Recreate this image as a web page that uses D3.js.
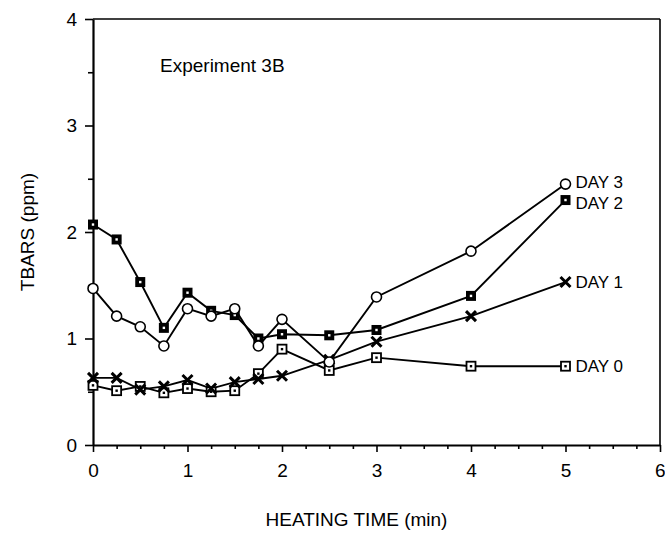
<!DOCTYPE html>
<html lang="en">
<head>
<meta charset="UTF-8">
<title>Experiment 3B</title>
<script src="https://d3js.org/d3.v7.min.js"></script>
<style>
  body { margin: 0; background: #fff; }
  svg { display: block; font-family: "Liberation Sans", Arial, sans-serif; }
  .line { fill: none; stroke: #000; stroke-width: 1.9px; }
</style>
</head>
<body>
<svg width="665" height="536"></svg>
<script>
// heating time (min)
const times = [0, 0.25, 0.5, 0.75, 1, 1.25, 1.5, 1.75, 2, 2.5, 3, 4, 5];
// TBARS (ppm) per storage day
const day0 = [0.56, 0.51, 0.55, 0.49, 0.53, 0.50, 0.51, 0.67, 0.90, 0.70, 0.82, 0.74, 0.74];
const day1 = [0.63, 0.63, 0.52, 0.55, 0.61, 0.53, 0.59, 0.62, 0.65, 0.80, 0.97, 1.21, 1.53];
const day2 = [2.07, 1.93, 1.53, 1.10, 1.43, 1.26, 1.22, 1.00, 1.04, 1.03, 1.08, 1.40, 2.30];
const day3 = [1.47, 1.21, 1.11, 0.93, 1.28, 1.21, 1.28, 0.93, 1.18, 0.78, 1.39, 1.82, 2.45];
const xTicks = [0, 1, 2, 3, 4, 5, 6];
const yTicks = [0, 1, 2, 3, 4];

const series = [
  { name: "DAY 0", values: day0, marker: "openSquare", dy: 0 },
  { name: "DAY 1", values: day1, marker: "cross", dy: 0 },
  { name: "DAY 2", values: day2, marker: "filledSquare", dy: 3 },
  { name: "DAY 3", values: day3, marker: "circle", dy: -2 }
];

const svg = d3.select("svg");
const m = { left: 93, right: 660, top: 19, bottom: 445 };

const x = d3.scaleLinear().domain([0, 6]).range([m.left, m.right]);
const y = d3.scaleLinear().domain([0, 4]).range([m.bottom, m.top]);

// frame: top and right are thinner
svg.append("line").attr("x1", m.left).attr("x2", m.right).attr("y1", m.top).attr("y2", m.top)
  .attr("stroke", "#000").attr("stroke-width", 1.6);
svg.append("line").attr("x1", m.right).attr("x2", m.right).attr("y1", m.top).attr("y2", m.bottom)
  .attr("stroke", "#000").attr("stroke-width", 1.6);

// x axis, major + minor ticks
const xMinor = d3.range(0, 6.01, 0.25).filter(v => !xTicks.includes(v));
svg.append("g").attr("transform", `translate(0,${m.bottom})`)
  .call(d3.axisBottom(x).tickValues(xMinor).tickSize(4).tickFormat(""))
  .call(g => g.select(".domain").remove());
const xAxis = svg.append("g").attr("transform", `translate(0,${m.bottom})`)
  .call(d3.axisBottom(x).tickValues(xTicks).tickSize(7).tickSizeOuter(0).tickPadding(12).tickFormat(d3.format("d")));
// last label sits at the page edge
xAxis.selectAll(".tick text").filter(d => d === 6).attr("text-anchor", "end").attr("dx", 5);

// y axis
const yMinor = [0.5, 1.5, 2.5, 3.5];
svg.append("g").attr("transform", `translate(${m.left},0)`)
  .call(d3.axisLeft(y).tickValues(yMinor).tickSize(5).tickFormat(""))
  .call(g => g.select(".domain").remove());
const yAxis = svg.append("g").attr("transform", `translate(${m.left},0)`)
  .call(d3.axisLeft(y).tickValues(yTicks).tickSize(8).tickSizeOuter(0).tickPadding(8).tickFormat(d3.format("d")));

svg.selectAll(".domain").attr("stroke-width", 2.2);
svg.selectAll(".tick line").attr("stroke-width", 1.6);
svg.selectAll(".tick text").attr("font-size", 19).attr("fill", "#000")
  .attr("font-family", "'Liberation Sans', Arial, sans-serif");

// axis titles
svg.append("text").attr("x", (m.left + m.right) / 2 - 20).attr("y", 526)
  .attr("text-anchor", "middle").attr("font-size", 19).text("HEATING TIME (min)");
svg.append("text").attr("transform", `translate(34,${(m.top + m.bottom) / 2}) rotate(-90)`)
  .attr("text-anchor", "middle").attr("font-size", 19).text("TBARS (ppm)");

svg.append("text").attr("x", 160).attr("y", 72).attr("font-size", 19).text("Experiment 3B");

// lines
const line = d3.line().x((d, i) => x(times[i])).y(d => y(d));
svg.selectAll(".line").data(series).enter().append("path")
  .attr("class", "line").attr("d", d => line(d.values));

// markers
function drawMarker(g, type) {
  if (type === "circle") {
    g.append("circle").attr("r", 5).attr("fill", "#fff").attr("stroke", "#000").attr("stroke-width", 1.6);
  } else if (type === "filledSquare") {
    g.append("rect").attr("x", -5).attr("y", -5).attr("width", 10).attr("height", 10).attr("fill", "#000");
    g.append("rect").attr("x", -1.2).attr("y", -1.2).attr("width", 2.4).attr("height", 2.4).attr("fill", "#fff");
  } else if (type === "openSquare") {
    g.append("rect").attr("x", -4.5).attr("y", -4.5).attr("width", 9).attr("height", 9)
      .attr("fill", "#fff").attr("stroke", "#000").attr("stroke-width", 1.8);
    g.append("rect").attr("x", -1.2).attr("y", -1.2).attr("width", 2.4).attr("height", 2.4).attr("fill", "#000");
  } else {
    g.append("path").attr("d", "M-5,-5L5,5M-5,5L5,-5").attr("stroke", "#000").attr("stroke-width", 3);
  }
}

series.forEach(s => {
  s.values.forEach((v, i) => {
    const g = svg.append("g").attr("transform", `translate(${x(times[i])},${y(v)})`);
    drawMarker(g, s.marker);
  });
  const last = s.values.length - 1;
  svg.append("text").attr("x", x(times[last]) + 10).attr("y", y(s.values[last]) + s.dy)
    .attr("dy", "0.35em").attr("font-size", 17).text(s.name);
});
</script>
</body>
</html>
